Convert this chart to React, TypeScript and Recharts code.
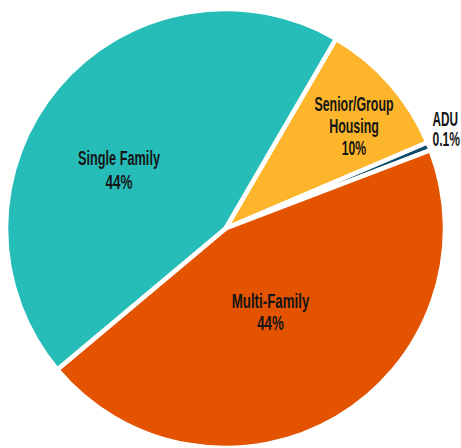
import React from "react";
import { PieChart, Pie, Cell } from "recharts";

// Slices in drawing order (clockwise from the top-right boundary)
const categories = ["Senior/Group Housing", "ADU", "Multi-Family", "Single Family"];
const shares = [10.2, 0.6, 44.7, 44.5];
const labelLines = [
  ["Senior/Group", "Housing", "10%"],
  ["ADU", "0.1%"],
  ["Multi-Family", "44%"],
  ["Single Family", "44%"],
];
const colors = ["#FDB52B", "#0E4C6B", "#E35300", "#26BDB9"];

// label layout (offsets from pie centre, px), target line widths and horizontal squeeze
const labelLayout = [
  { dx: 128.5, dy: [-117.8, -95.2, -73.5], anchor: "middle", widths: [79, 49.7, 24.4], sx: 1 },
  { dx: 207, dy: [-102.5, -82.5], anchor: "start", widths: [25.5, 27.5], sx: 0.6 },
  { dx: 45, dy: [79.8, 101.5], anchor: "middle", widths: [77.6, 26.6], sx: 1 },
  { dx: -106.5, dy: [-63.5, -39.5], anchor: "middle", widths: [82, 27], sx: 1 },
];

const data = categories.map((name, i) => ({ name, value: shares[i] }));

const renderLabel = (props: any) => {
  const { cx, cy, index } = props;
  const lay = labelLayout[index];
  const lines = labelLines[index];
  return (
    <g key={`lbl-${index}`}>
      {lines.map((t, j) => (
        <text
          key={j}
          x={0}
          y={0}
          transform={`translate(${cx + lay.dx},${cy + lay.dy[j]}) scale(${lay.sx},1)`}
          textAnchor={lay.anchor as any}
          fill="#151515"
          fontFamily="'Liberation Sans Narrow', 'Liberation Sans', Arial, sans-serif"
          fontWeight={700}
          fontSize={20}
          textLength={lay.widths[j] / lay.sx}
          lengthAdjust="spacingAndGlyphs"
        >
          {t}
        </text>
      ))}
    </g>
  );
};

export default function App() {
  return (
    <div style={{ position: "absolute", left: 0, top: 0, width: 461, height: 448, background: "#fff" }}>
      <PieChart width={461} height={448} margin={{ top: 0, right: 0, bottom: 0, left: 0 }}>
        <Pie
          data={data}
          dataKey="value"
          nameKey="name"
          cx={225.5}
          cy={228.5}
          innerRadius={0}
          outerRadius={219.5}
          startAngle={59.8}
          endAngle={59.8 - 360}
          paddingAngle={0}
          stroke="#ffffff"
          strokeWidth={4.5}
          isAnimationActive={false}
          label={renderLabel}
          labelLine={false}
        >
          {data.map((d, i) => (
            <Cell key={d.name} fill={colors[i]} stroke="#ffffff" strokeWidth={4.5} />
          ))}
        </Pie>
      </PieChart>
    </div>
  );
}
